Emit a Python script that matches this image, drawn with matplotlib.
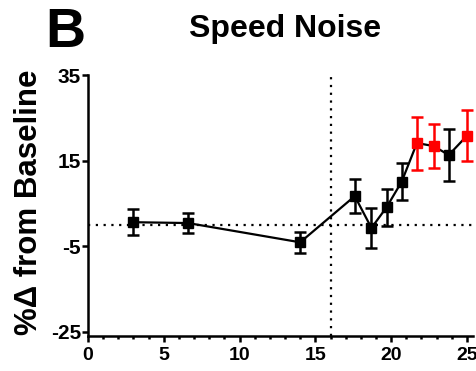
import matplotlib
matplotlib.use("Agg")
import matplotlib.pyplot as plt
from matplotlib.ticker import MultipleLocator

plt.rcParams['font.family'] = ['Liberation Sans', 'DejaVu Sans']
plt.rcParams['font.weight'] = 'bold'
plt.rcParams['axes.unicode_minus'] = False

x = [3, 6.6, 14, 17.6, 18.7, 19.7, 20.7, 21.7, 22.8, 23.8, 25.0]
y = [0.6, 0.4, -4.1, 6.7, -0.75, 4.1, 10.1, 19.1, 18.4, 16.3, 20.8]
err = [3.1, 2.25, 2.4, 4.0, 4.6, 4.3, 4.4, 6.2, 5.2, 6.1, 6.0]
colors = ['black'] * 7 + ['red', 'red', 'black', 'red']

title = "Speed Noise"
ylabel = "%\u0394 from Baseline"
panel = "B"
yticks = [-25, -5, 15, 35]
xticks = [0, 5, 10, 15, 20, 25]
vline_x = 16
hline_y = 0

fig = plt.figure(figsize=(4.77, 3.71), dpi=100)
ax = fig.add_axes([0.1845, 0.0943, 0.8071, 0.7035])

ax.axhline(hline_y, color='black', lw=1.6, linestyle=(0, (1, 2.5)), zorder=1)
ax.axvline(vline_x, color='black', lw=1.6, linestyle=(0, (1, 2.5)), zorder=1)

ax.plot(x, y, color='black', lw=1.6, zorder=2)
for xi, yi, ei, c in zip(x, y, err, colors):
    ax.errorbar(xi, yi, yerr=ei, fmt='s', color=c, ms=7.5, elinewidth=1.8,
                capsize=4, capthick=1.8, zorder=3)

ax.set_xlim(0, 25.4)
ax.set_ylim(-26, 35)
ax.set_xticks(xticks)
ax.set_yticks(yticks)
ax.xaxis.set_minor_locator(MultipleLocator(1))
for s in ['top', 'right']:
    ax.spines[s].set_visible(False)
for s in ['left', 'bottom']:
    ax.spines[s].set_linewidth(1.8)
ax.tick_params(axis='both', which='major', width=1.8, length=4)
ax.tick_params(axis='x', which='minor', width=1.8, length=2.5)
ax.tick_params(axis='x', pad=4, labelsize=14)
ax.tick_params(axis='y', pad=1, labelsize=15)
for lab in ax.get_xticklabels() + ax.get_yticklabels():
    lab.set_fontweight('bold')

fig.text(0.0606, 1 - 202 / 371, ylabel, fontsize=22.5, fontweight='bold',
         rotation=90, ha='center', va='center')
fig.text(0.5985, 1 - 37.3 / 371, title, fontsize=23, fontweight='bold',
         ha='center', va='baseline')
fig.text(0.094, 1 - 47 / 371, panel, fontsize=40, fontweight='bold',
         ha='left', va='baseline')

fig.savefig('out.png', dpi=100)
